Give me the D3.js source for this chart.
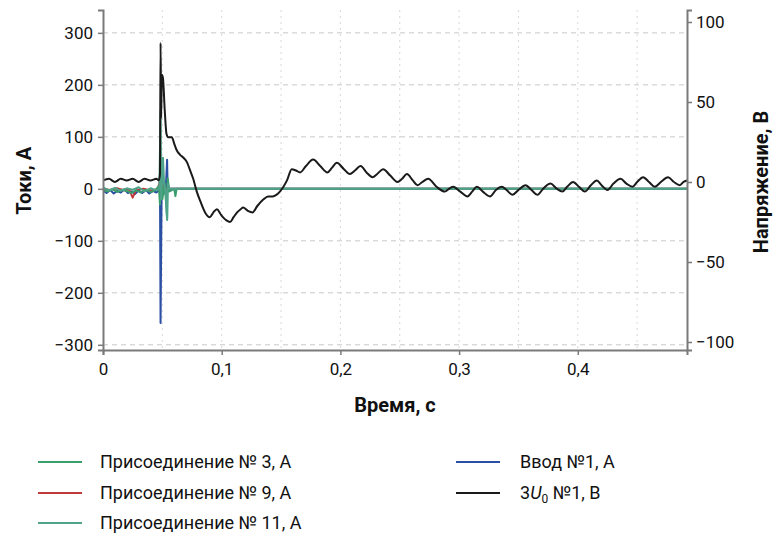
<!DOCTYPE html>
<html lang="ru">
<head>
<meta charset="utf-8">
<title>Токи и напряжение</title>
<script src="https://d3js.org/d3.v7.min.js"></script>
<style>
  body { margin: 0; background: #fff; }
  svg text { font-family: Roboto, "Noto Sans", sans-serif; fill: #111; }
</style>
</head>
<body>
<div id="chart"></div>
<script>
// Ticks
var xTicks = [0, 0.1, 0.2, 0.3, 0.4];
var xTickLabels = ["0", "0,1", "0,2", "0,3", "0,4"];
var xGrid = [0.05, 0.1, 0.15, 0.2, 0.25, 0.3, 0.35, 0.4, 0.45];
var leftTicks = [-300, -200, -100, 0, 100, 200, 300];
var rightTicks = [-100, -50, 0, 50, 100];

// Присоединение № 3, А
var t3 = [0, 0.004, 0.008, 0.012, 0.016, 0.02, 0.024, 0.028, 0.032, 0.036, 0.04, 0.044, 0.047, 0.048, 0.049, 0.05, 0.052, 0.054, 0.0545, 0.056, 0.06, 0.061, 0.062, 0.07, 0.2, 0.35, 0.492];
var i3 = [-2, -5, -1, -6, -2, -4, -8, -3, -7, -2, -6, -3, 5, -30, 40, -20, 10, -58, 20, -5, 0, -14, 0, 0, 0, 0, 0];

// Присоединение № 9, А
var t9 = [0, 0.006, 0.012, 0.018, 0.022, 0.025, 0.028, 0.034, 0.04, 0.046, 0.048, 0.049, 0.05, 0.052, 0.06, 0.2, 0.492];
var i9 = [0, -2, 1, -3, -1, -17, -2, 0, -3, -1, 15, -20, 8, 0, 0, 0, 0];

// Присоединение № 11, А
var t11 = [0, 0.005, 0.01, 0.015, 0.02, 0.025, 0.03, 0.035, 0.04, 0.045, 0.0475, 0.0485, 0.049, 0.0505, 0.0515, 0.053, 0.054, 0.0545, 0.056, 0.06, 0.2, 0.492];
var i11 = [3, -3, 2, -4, 1, -2, 3, -5, 1, -3, 0, 150, -20, 60, 10, -10, -60, 10, 0, 0, 0, 0];

// Ввод №1, А
var tIn = [0, 0.003, 0.006, 0.009, 0.012, 0.015, 0.018, 0.021, 0.024, 0.027, 0.03, 0.033, 0.036, 0.039, 0.042, 0.045, 0.047, 0.048, 0.0485, 0.0495, 0.051, 0.053, 0.054, 0.0545, 0.056, 0.06, 0.2, 0.492];
var iIn = [-3, -8, -2, -9, -4, -7, -1, -8, -5, -10, -3, -8, -2, -9, -4, -7, -3, 10, -258, 30, -10, 5, 56, -5, 0, 0, 0, 0];

// 3U0 №1, В
var tU0 = [0, 0.005, 0.01, 0.015, 0.02, 0.025, 0.03, 0.035, 0.04, 0.045, 0.047, 0.048, 0.0485, 0.049, 0.0495, 0.0505, 0.052, 0.0535, 0.055, 0.058, 0.06, 0.062, 0.065, 0.068, 0.071, 0.073, 0.076, 0.079, 0.082, 0.086, 0.09, 0.093, 0.096, 0.099, 0.101, 0.104, 0.107, 0.11, 0.113, 0.116, 0.118, 0.122, 0.126, 0.13, 0.135, 0.139, 0.143, 0.146, 0.149, 0.152, 0.155, 0.159, 0.163, 0.166, 0.171, 0.177, 0.183, 0.189, 0.193, 0.197, 0.203, 0.208, 0.212, 0.217, 0.222, 0.227, 0.231, 0.236, 0.242, 0.248, 0.252, 0.256, 0.261, 0.265, 0.269, 0.274, 0.281, 0.288, 0.292, 0.295, 0.301, 0.307, 0.311, 0.315, 0.32, 0.326, 0.331, 0.336, 0.34, 0.345, 0.35, 0.356, 0.361, 0.366, 0.371, 0.377, 0.382, 0.387, 0.391, 0.396, 0.401, 0.406, 0.411, 0.416, 0.42, 0.425, 0.43, 0.436, 0.441, 0.446, 0.45, 0.455, 0.46, 0.465, 0.47, 0.476, 0.481, 0.486, 0.489, 0.492];
var vU0 = [1, 2, 0, 2, 1, 2, 0, 2, 1, 2, 1, 5, 87, 40, 67, 65, 45, 30, 28, 28, 24, 20, 17, 15, 12, 8, 2, -6, -12, -19, -22, -19, -17, -20, -22, -24, -25, -22, -19, -17, -16, -18, -19, -15, -11, -9, -9, -8, -6, -3, 1, 8, 7, 6, 10, 14, 10, 6, 9, 12, 8, 5, 7, 10, 6, 3, 5, 8, 4, 0, 2, 5, 1, -2, 0, 2, -3, -6, -4, -3, -6, -9, -6, -3, -6, -9, -5, -3, -5, -8, -5, -2, -5, -8, -4, -1, -4, -6, -3, 0, -3, -6, -2, 1, -2, -5, -1, 2, -1, -3, 0, 3, 0, -3, 0, 3, 0, -2, 0, 1];

var legendLabels = ["Присоединение № 3, А", "Присоединение № 9, А", "Присоединение № 11, А", "Ввод №1, А", "3U0 №1, В"];

// draw order: blue under the greens so the zero line reads teal, black on top
var series = [
    { name: legendLabels[3], t: tIn, v: iIn, color: "#2b4fa2", axis: "left" },
    { name: legendLabels[1], t: t9, v: i9, color: "#c0393b", axis: "left" },
    { name: legendLabels[0], t: t3, v: i3, color: "#3a9d6c", axis: "left" },
    { name: legendLabels[2], t: t11, v: i11, color: "#4fa38a", axis: "left" },
    { name: legendLabels[4], t: tU0, v: vU0, color: "#1a1a1a", axis: "right" }
];

var width = 782, height = 542;
var plot = { left: 103, right: 687, top: 10, bottom: 350 };

var x = d3.scaleLinear().domain([0, 0.492]).range([plot.left, plot.right]);
var yL = d3.scaleLinear().domain([-310, 344]).range([plot.bottom, plot.top]);
var yR = d3.scaleLinear().domain([-105, 107.5]).range([plot.bottom, plot.top]);

var svg = d3.select("#chart").append("svg")
    .attr("width", width)
    .attr("height", height);

svg.append("defs").append("clipPath").attr("id", "clip")
    .append("rect")
    .attr("x", plot.left).attr("y", plot.top)
    .attr("width", plot.right - plot.left).attr("height", plot.bottom - plot.top);

// Grid
var grid = svg.append("g").attr("class", "grid");
grid.selectAll("line.h").data(leftTicks).enter().append("line")
    .attr("x1", plot.left).attr("x2", plot.right)
    .attr("y1", function(d) { return yL(d); }).attr("y2", function(d) { return yL(d); })
    .attr("stroke", "#c8c8c8").attr("stroke-width", 1).attr("stroke-dasharray", "5,4");
grid.selectAll("line.v").data(xGrid).enter().append("line")
    .attr("y1", plot.top).attr("y2", plot.bottom)
    .attr("x1", function(d) { return x(d); }).attr("x2", function(d) { return x(d); })
    .attr("stroke", "#d8d8d8").attr("stroke-width", 1).attr("stroke-dasharray", "2,4");

// Lines
var lines = svg.append("g").attr("clip-path", "url(#clip)");
series.forEach(function(s) {
    var yScale = s.axis == "left" ? yL : yR;
    var pts = s.t.map(function(t, i) { return [t, s.v[i]]; });
    var line = d3.line()
        .curve(s.axis == "right" ? d3.curveMonotoneX : d3.curveLinear)
        .x(function(d) { return x(d[0]); })
        .y(function(d) { return yScale(d[1]); });
    lines.append("path")
        .datum(pts)
        .attr("d", line)
        .attr("fill", "none")
        .attr("stroke", s.color)
        .attr("stroke-width", s.axis == "left" ? 2 : 2)
        .attr("stroke-linejoin", "round");
});

// Axes
var axisColor = "#7a7a7a";
var xAxis = svg.append("g")
    .attr("transform", "translate(0," + plot.bottom + ")")
    .call(d3.axisBottom(x).tickValues(xTicks).tickSize(5).tickPadding(8)
        .tickFormat(function(d, i) { return xTickLabels[i]; }));
var leftAxis = svg.append("g")
    .attr("transform", "translate(" + plot.left + ",0)")
    .call(d3.axisLeft(yL).tickValues(leftTicks).tickSize(5).tickPadding(5));
var rightAxis = svg.append("g")
    .attr("transform", "translate(" + plot.right + ",0)")
    .call(d3.axisRight(yR).tickValues(rightTicks).tickSize(5).tickPadding(4));

[xAxis, leftAxis, rightAxis].forEach(function(a) {
    a.select(".domain").attr("stroke", axisColor).attr("stroke-width", 2);
    a.selectAll(".tick line").attr("stroke", axisColor).attr("stroke-width", 1.5);
    a.selectAll(".tick text").attr("font-size", 17).attr("fill", "#111")
        .style("font-family", "Roboto, 'Noto Sans', sans-serif");
});

// Axis titles
svg.append("text")
    .attr("transform", "translate(31," + (yL(0) - 8) + ") rotate(-90)")
    .attr("text-anchor", "middle")
    .attr("font-size", 20).attr("font-weight", "bold")
    .text("Токи, А");
svg.append("text")
    .attr("transform", "translate(768," + yR(0) + ") rotate(-90)")
    .attr("text-anchor", "middle")
    .attr("font-size", 20).attr("font-weight", "bold")
    .text("Напряжение, В");
svg.append("text")
    .attr("x", (plot.left + plot.right) / 2).attr("y", 412)
    .attr("text-anchor", "middle")
    .attr("font-size", 20).attr("font-weight", "bold")
    .text("Время, с");

// Legend
var legendItems = [
    { label: legendLabels[0], color: "#3a9d6c", x: 38, y: 462 },
    { label: legendLabels[1], color: "#c0393b", x: 38, y: 493 },
    { label: legendLabels[2], color: "#4fa38a", x: 38, y: 523 },
    { label: legendLabels[3], color: "#2b4fa2", x: 456, y: 462 },
    { label: legendLabels[4], color: "#1a1a1a", x: 456, y: 493 }
];
var legend = svg.append("g").attr("class", "legend");
legendItems.forEach(function(d, i) {
    legend.append("line")
        .attr("x1", d.x).attr("x2", d.x + 44)
        .attr("y1", d.y).attr("y2", d.y)
        .attr("stroke", d.color).attr("stroke-width", 2);
    var txt = legend.append("text")
        .attr("x", d.x + (i < 3 ? 62 : 64)).attr("y", d.y + 6)
        .attr("font-size", 18);
    if (i == 4) {
        txt.append("tspan").text("3");
        txt.append("tspan").attr("font-style", "italic").text("U");
        txt.append("tspan").attr("font-size", 12).attr("dy", 4).text("0");
        txt.append("tspan").attr("dy", -4).text(" №1, В");
    } else {
        txt.text(d.label);
    }
});
</script>
</body>
</html>
